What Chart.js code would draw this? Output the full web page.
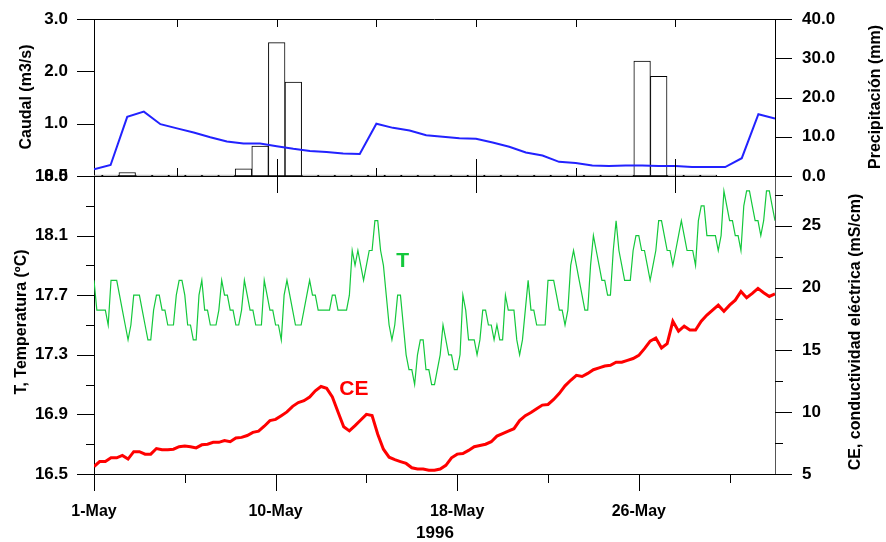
<!DOCTYPE html>
<html>
<head>
<meta charset="utf-8">
<script src="https://cdn.jsdelivr.net/npm/chart.js@4.4.1/dist/chart.umd.min.js"></script>
<style>
html,body{margin:0;padding:0;background:#fff;}
#wrap{position:relative;width:886px;height:542px;overflow:hidden;background:#fff;}
canvas{position:absolute;left:0;top:0;}
</style>
</head>
<body>
<div id="wrap">
<canvas id="bottomChart" width="886" height="542"></canvas>
<canvas id="topChart" width="886" height="200"></canvas>
</div>
<script>
// top panel: one value per day
const caudal = [0.13,0.21,1.13,1.23,0.99,0.91,0.83,0.74,0.66,0.62,0.62,0.57,0.52,0.48,0.46,0.43,0.42,
  1.00,0.92,0.87,0.78,0.75,0.72,0.71,0.64,0.56,0.45,0.39,0.27,0.25,0.20,0.19,0.20,0.20,0.19,0.19,
  0.17,0.17,0.17,0.34,1.18,1.10];
const precip = [0,0,0.9,0.2,0,0,0,0,0,1.8,7.6,34.0,23.9,0,0,0,0,0,0,0,0,0,0,0,0,0,0,0,0,0,0,0,0,
  29.3,25.4,0,0,0];
const caudalTicks = [0,1,2,3];
const precipTicks = [0,10,20,30,40];
const topTickDays = [5,11,17,23,29,35];
const longTickDays = [11,23,35];

// bottom panel: T every 1/8 day, CE every 1/4 day
const tempT = [
  17.8,17.6,17.6,17.6,17.6,17.5,17.8,17.8,
  17.8,17.7,17.6,17.5,17.4,17.5,17.7,17.7,
  17.7,17.6,17.5,17.4,17.4,17.6,17.7,17.7,
  17.6,17.6,17.5,17.5,17.5,17.7,17.8,17.8,
  17.7,17.5,17.5,17.4,17.4,17.7,17.8,17.6,
  17.6,17.5,17.5,17.5,17.6,17.8,17.7,17.7,
  17.6,17.6,17.5,17.5,17.6,17.8,17.7,17.6,
  17.6,17.5,17.5,17.5,17.8,17.7,17.6,17.6,
  17.5,17.5,17.4,17.7,17.8,17.7,17.6,17.5,
  17.5,17.5,17.6,17.7,17.8,17.7,17.7,17.6,
  17.6,17.6,17.6,17.6,17.7,17.7,17.6,17.6,
  17.6,17.6,17.7,18.0,17.9,18.0,17.9,17.8,
  17.9,18.0,18.0,18.2,18.2,18.0,17.9,17.7,
  17.5,17.4,17.5,17.7,17.7,17.5,17.3,17.2,
  17.2,17.1,17.3,17.4,17.4,17.2,17.2,17.1,
  17.1,17.2,17.3,17.5,17.4,17.3,17.3,17.2,
  17.2,17.3,17.7,17.6,17.4,17.4,17.4,17.3,
  17.4,17.6,17.6,17.5,17.5,17.4,17.5,17.4,
  17.4,17.7,17.6,17.6,17.6,17.4,17.3,17.4,
  17.6,17.8,17.6,17.6,17.5,17.5,17.5,17.5,
  17.8,17.8,17.8,17.7,17.6,17.6,17.5,17.6,
  17.9,18.0,17.9,17.8,17.7,17.6,17.6,17.9,
  18.1,18.0,17.9,17.8,17.8,17.7,17.7,18.0,
  18.2,18.0,17.9,17.8,17.8,17.8,18.0,18.1,
  18.1,18.0,18.0,17.9,17.8,17.9,18.0,18.2,
  18.2,18.1,18.0,18.0,17.9,18.0,18.1,18.2,
  18.1,18.0,18.0,18.0,17.9,18.2,18.3,18.3,
  18.1,18.1,18.1,18.1,18.0,18.1,18.4,18.3,
  18.2,18.2,18.1,18.1,18.0,18.3,18.4,18.4,
  18.3,18.2,18.2,18.1,18.2,18.4,18.4,18.3,
  18.2];
const condCE = [
  5.6,6.0,6.0,6.3, 6.3,6.5,6.2,6.8, 6.8,6.6,6.6,7.05, 6.95,6.95,7.0,7.2,
  7.25,7.2,7.1,7.35, 7.4,7.55,7.55,7.7, 7.6,7.9,7.95,8.1, 8.35,8.45,8.85,9.3,
  9.4,9.7,10.0,10.45, 10.75,10.9,11.2,11.7, 12.05,11.9,11.2,10.0, 8.8,8.47,8.9,9.35,
  9.8,9.7,8.2,7.0, 6.35,6.15,6.0,5.85, 5.5,5.4,5.4,5.3, 5.3,5.4,5.7,6.3,
  6.6,6.65,6.9,7.2, 7.3,7.4,7.6,8.05, 8.25,8.45,8.65,9.3, 9.7,9.95,10.25,10.55,
  10.6,11.0,11.5,12.1, 12.55,12.95,12.85,13.1, 13.4,13.55,13.7,13.75, 14.0,14.0,14.15,14.3,
  14.55,15.1,15.7,15.95, 15.15,15.5,17.3,16.5, 16.9,16.6,16.6,17.3, 17.8,18.2,18.6,18.1,
  18.6,19.0,19.7,19.2, 19.55,19.95,19.6,19.3, 19.5];
const dateLabels = ['1-May','10-May','18-May','26-May'];
const dateTicks = [0,8,16,24];
const dateMinor = [4,12,20,28];
const tTicks = [16.5,16.9,17.3,17.7,18.1,18.5];
const tMinor = [16.7,17.1,17.5,17.9,18.3];
const ceTicks = [5,10,15,20,25];
const ceMinor = [7.5,12.5,17.5,22.5,27.5];

const FONT = '"Liberation Sans", Arial, sans-serif';
Chart.defaults.font.family = FONT;
Chart.defaults.font.weight = 'bold';
Chart.defaults.color = '#000';

// tick marks, frame bits and free text
const axisDeco = {
  id: 'axisDeco',
  afterDraw(chart, args, o) {
    const ctx = chart.ctx, a = chart.chartArea;
    ctx.save();
    ctx.strokeStyle = '#000';
    ctx.lineWidth = 1;
    (o.marks || []).forEach(m => {
      const s = chart.scales[m.scale];
      m.values.forEach(v => {
        const p = Math.round(s.getPixelForValue(v)) + 0.5;
        ctx.beginPath();
        if (m.edge === 'left' || m.edge === 'right') {
          const x0 = m.edge === 'left' ? a.left : a.right;
          ctx.moveTo(x0 + m.from, p); ctx.lineTo(x0 + m.to, p);
        } else {
          const y0 = m.edge === 'top' ? a.top : a.bottom;
          ctx.moveTo(p, y0 + m.from); ctx.lineTo(p, y0 + m.to);
        }
        ctx.stroke();
      });
    });
    if (o.topLine) {
      ctx.beginPath();
      ctx.moveTo(a.left, Math.round(a.top) + 0.5);
      ctx.lineTo(a.right, Math.round(a.top) + 0.5);
      ctx.stroke();
    }
    (o.texts || []).forEach(t => {
      ctx.save();
      ctx.translate(t.x, t.y);
      if (t.rot) ctx.rotate(t.rot);
      ctx.font = t.font;
      ctx.fillStyle = t.color || '#000';
      ctx.textAlign = 'center';
      ctx.textBaseline = 'middle';
      ctx.fillText(t.text, 0, 0);
      ctx.restore();
    });
    (o.dataTexts || []).forEach(t => {
      const x = chart.scales.x.getPixelForValue(t.xv);
      const y = chart.scales[t.scale].getPixelForValue(t.yv);
      ctx.font = t.font;
      ctx.fillStyle = t.color;
      ctx.textAlign = 'center';
      ctx.textBaseline = 'middle';
      ctx.fillText(t.text, x, y);
    });
    ctx.restore();
  }
};

const tickFont = {size: 17, weight: 'bold'};
const noGrid = {display: false, drawTicks: false};
// fixed side width, and no extra room asked for the end labels
const sideFit = w => s => { s.width = w; s.paddingTop = 0; s.paddingBottom = 0; };

new Chart(document.getElementById('bottomChart'), {
  type: 'line',
  data: {
    datasets: [
      {data: tempT.map((v, i) => ({x: i / 8, y: v})), yAxisID: 'yT', borderColor: '#14c83c',
       borderWidth: 1.2, pointRadius: 0, tension: 0},
      {data: condCE.map((v, i) => ({x: i / 4, y: v})), yAxisID: 'yCE', borderColor: '#ff0000',
       borderWidth: 3, pointRadius: 0, tension: 0}
    ]
  },
  options: {
    responsive: false, animation: false, devicePixelRatio: 1,
    layout: {padding: {top: 176, left: 0, right: 0, bottom: 0}},
    plugins: {
      legend: {display: false}, tooltip: {enabled: false},
      axisDeco: {
        marks: [
          {scale: 'yT', values: tTicks, edge: 'left', from: -17, to: 0},
          {scale: 'yT', values: tMinor, edge: 'left', from: -8, to: 0},
          {scale: 'yCE', values: ceTicks, edge: 'right', from: 0, to: 17},
          {scale: 'yCE', values: ceMinor, edge: 'right', from: 0, to: 8},
          {scale: 'x', values: dateTicks, edge: 'bottom', from: 0, to: 17},
          {scale: 'x', values: dateMinor, edge: 'bottom', from: 0, to: 9}
        ],
        texts: [
          {text: 'T, Temperatura (ºC)', x: 22, y: 322, rot: -Math.PI / 2, font: 'bold 16px ' + FONT},
          {text: 'CE, conductividad eléctrica (mS/cm)', x: 856, y: 332, rot: -Math.PI / 2, font: 'bold 16px ' + FONT},
          {text: '1996', x: 435, y: 533, font: 'bold 17px ' + FONT}
        ],
        dataTexts: [
          {text: 'T', xv: 13.6, yv: 17.93, scale: 'yT', color: '#14c83c', font: 'bold 21px ' + FONT},
          {text: 'CE', xv: 11.45, yv: 11.8, scale: 'yCE', color: '#ff0000', font: 'bold 21px ' + FONT}
        ]
      }
    },
    scales: {
      x: {type: 'linear', min: 0, max: 30, grid: noGrid, border: {color: '#000'},
          afterBuildTicks: s => { s.ticks = dateTicks.map(v => ({value: v})); },
          ticks: {callback: (v, i) => dateLabels[i], padding: 28, maxRotation: 0, autoSkip: false,
                  font: {size: 16, weight: 'bold'}},
          afterFit: s => { s.height = 68; }},
      yT: {position: 'left', min: 16.5, max: 18.5, grid: noGrid, border: {color: '#000'},
           afterBuildTicks: s => { s.ticks = tTicks.map(v => ({value: v})); },
           ticks: {callback: v => v.toFixed(1), padding: 26, font: tickFont},
           afterFit: sideFit(94)},
      yCE: {position: 'right', min: 5, max: 29, grid: noGrid, border: {color: '#555'},
            afterBuildTicks: s => { s.ticks = ceTicks.map(v => ({value: v})); },
            ticks: {callback: v => String(v), padding: 27, font: tickFont},
            afterFit: sideFit(111)}
    }
  },
  plugins: [axisDeco]
});

new Chart(document.getElementById('topChart'), {
  type: 'bar',
  data: {
    datasets: [
      {type: 'line', data: caudal.map((v, i) => ({x: i, y: v})), yAxisID: 'yQ',
       borderColor: '#2222ff', borderWidth: 2, pointRadius: 0, tension: 0, order: 0},
      {type: 'bar', data: precip.map((v, i) => ({x: i, y: v})), yAxisID: 'yP',
       backgroundColor: '#ffffff', borderColor: '#000', borderWidth: 1, borderSkipped: false,
       barPercentage: 1, categoryPercentage: 1, minBarLength: 1, order: 1}
    ]
  },
  options: {
    responsive: false, animation: false, devicePixelRatio: 1,
    layout: {padding: {top: 19, left: 0, right: 0, bottom: 0}},
    plugins: {
      legend: {display: false}, tooltip: {enabled: false},
      axisDeco: {
        topLine: true,
        marks: [
          {scale: 'yQ', values: caudalTicks, edge: 'left', from: -17, to: 0},
          {scale: 'yP', values: precipTicks, edge: 'right', from: 0, to: 17},
          {scale: 'x', values: topTickDays, edge: 'top', from: 0, to: 8},
          {scale: 'x', values: topTickDays, edge: 'bottom', from: -8, to: 0},
          {scale: 'x', values: longTickDays, edge: 'bottom', from: -17, to: 17}
        ],
        texts: [
          {text: 'Caudal (m3/s)', x: 27, y: 97, rot: -Math.PI / 2, font: 'bold 16px ' + FONT},
          {text: 'Precipitación (mm)', x: 876, y: 97, rot: -Math.PI / 2, font: 'bold 16px ' + FONT}
        ]
      }
    },
    scales: {
      x: {type: 'linear', min: 0, max: 41, offset: false, grid: noGrid, ticks: {display: false},
          border: {color: '#000'}, afterFit: s => { s.height = 24; }},
      yQ: {position: 'left', min: 0, max: 3, grid: noGrid, border: {color: '#000'},
           afterBuildTicks: s => { s.ticks = caudalTicks.map(v => ({value: v})); },
           ticks: {callback: v => v.toFixed(1), padding: 26, font: tickFont},
           afterFit: sideFit(94)},
      yP: {position: 'right', min: 0, max: 40, grid: noGrid, border: {color: '#000'},
           afterBuildTicks: s => { s.ticks = precipTicks.map(v => ({value: v})); },
           ticks: {callback: v => v.toFixed(1), padding: 27, font: tickFont},
           afterFit: sideFit(111)}
    }
  },
  plugins: [axisDeco]
});
</script>
</body>
</html>
